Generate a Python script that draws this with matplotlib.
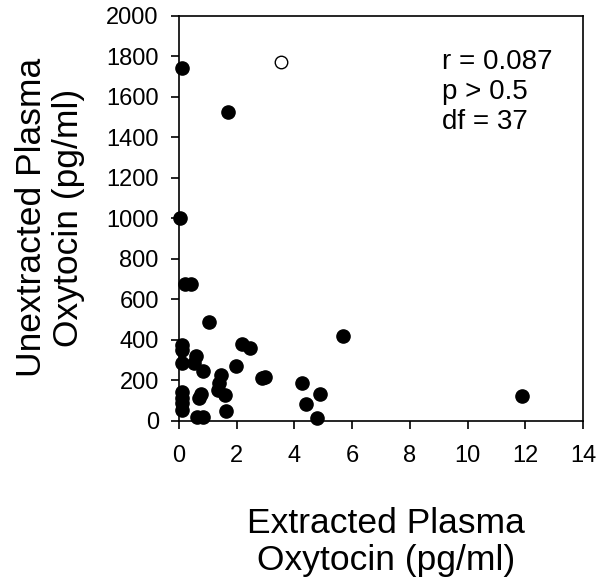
import matplotlib
matplotlib.use("Agg")
import matplotlib.pyplot as plt

plt.rcParams['font.family'] = ['Liberation Sans', 'DejaVu Sans']

# Data (filled = included subjects, open = excluded outlier)
extracted = [0.09, 1.70, 0.03, 0.21, 0.40, 1.05, 5.67, 0.09, 0.09, 2.20, 2.47, 0.60,
             0.53, 0.09, 0.83, 1.97, 1.45, 1.40, 1.36, 1.58, 2.86, 2.98, 4.25, 4.89,
             4.40, 4.79, 0.09, 0.09, 0.09, 0.09, 0.77, 0.68, 1.62, 0.63, 0.82, 11.88]
unextracted = [1744, 1524, 999, 677, 677, 488, 418, 372, 349, 378, 357, 320,
               282, 282, 247, 270, 227, 184, 150, 126, 209, 214, 184, 131,
               82, 14, 140, 112, 85, 52, 133, 110, 47, 16, 16, 121]
open_x = [3.52]
open_y = [1775]

x_ticks = [0, 2, 4, 6, 8, 10, 12, 14]
y_ticks = [0, 200, 400, 600, 800, 1000, 1200, 1400, 1600, 1800, 2000]
stats_text = "r = 0.087\np > 0.5\ndf = 37"

fig = plt.figure(figsize=(6.0, 5.84), dpi=100)
ax = fig.add_axes([179/600, 1 - 420.5/584, (583 - 179)/600, (420.5 - 16)/584])

ax.plot(extracted, unextracted, 'o', color='black', markersize=9.5, linestyle='none',
        clip_on=False, zorder=3)
ax.plot(open_x, open_y, 'o', markerfacecolor='white', markeredgecolor='black',
        markersize=9, markeredgewidth=1.0, linestyle='none', clip_on=False, zorder=3)

ax.set_xlim(0, 14)
ax.set_ylim(0, 2000)
ax.set_xticks(x_ticks)
ax.set_yticks(y_ticks)
ax.tick_params(axis='both', direction='out', length=5.5, width=1.2, labelsize=17)
ax.tick_params(axis='x', pad=12)
ax.tick_params(axis='y', pad=9)
for s in ax.spines.values():
    s.set_linewidth(1.2)

ax.text(441.7/600, 1 - 49/584, stats_text, transform=fig.transFigure,
        fontsize=20, va='top', ha='left', linespacing=1.2)

fig.text(50/600, 1 - 217.5/584, "Unextracted Plasma\nOxytocin (pg/ml)", rotation=90,
         ha='center', va='center', fontsize=25.5, linespacing=1.15)
fig.text(386/600, 1 - 542/584, "Extracted Plasma\nOxytocin (pg/ml)",
         ha='center', va='center', fontsize=25.5, linespacing=1.15)

fig.savefig("out.png", dpi=100)
